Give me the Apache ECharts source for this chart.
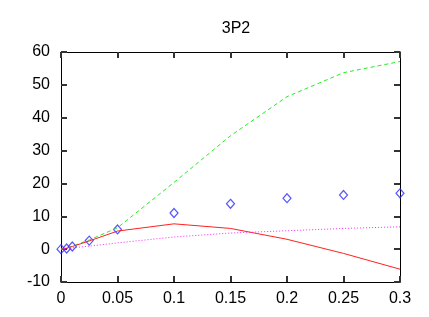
<!DOCTYPE html>
<html><head><meta charset="utf-8">
<script src="https://cdn.jsdelivr.net/npm/echarts@6/dist/echarts.min.js"></script>
<style>html,body{margin:0;padding:0;background:#fff}#c{width:429px;height:317px}</style>
</head><body><div id="c"></div>
<script>
var title = '3P2';
var xs = [0, 0.005, 0.01, 0.025, 0.05, 0.1, 0.15, 0.2, 0.25, 0.3];
var diamondY = [0, 0.2, 0.8, 2.6, 6.0, 11.0, 13.8, 15.5, 16.5, 17.0];
var redY = [0, 0.3, 0.8, 2.5, 5.5, 7.7, 6.3, 3.0, -1.3, -6.1];
var greenY = [0, 0.3, 0.9, 2.8, 6.5, 20.3, 34.5, 46.4, 53.7, 57.1];
var magentaY = [0, 0.2, 0.4, 0.9, 1.9, 3.7, 4.9, 5.6, 6.3, 6.8];
var xTickLabels = ['0', '0.05', '0.1', '0.15', '0.2', '0.25', '0.3'];
var yTickLabels = ['-10', '0', '10', '20', '30', '40', '50', '60'];

function pairs(ys){ return xs.map(function(x,i){ return [x, ys[i]]; }); }
var font = 'Liberation Sans, Arial, sans-serif';
var chart = echarts.init(document.getElementById('c'), null, {renderer:'canvas'});
function axLine(){ return {show:true, onZero:false, lineStyle:{color:'#000', width:1}}; }
function axTick(){ return {show:true, inside:true, length:6, lineStyle:{color:'#333', width:2}}; }
chart.setOption({
  animation:false,
  backgroundColor:'#fff',
  title:{text:title, left:231, top:16, textAlign:'center',
    textStyle:{fontFamily:font, fontSize:16, fontWeight:'normal', color:'#000'}},
  grid:{left:61, right:29, top:52, bottom:35},
  xAxis:[{type:'value', min:0, max:0.3, interval:0.05, position:'bottom',
    axisLine:axLine(), axisTick:axTick(), splitLine:{show:false},
    axisLabel:{fontFamily:font, fontSize:16, color:'#000', margin:9,
      formatter:function(v){ return xTickLabels[Math.round(v/0.05)]; }}},
   {type:'value', min:0, max:0.3, interval:0.05, position:'top',
    axisLine:axLine(), axisTick:axTick(), splitLine:{show:false}, axisLabel:{show:false}}],
  yAxis:[{type:'value', min:-10, max:60, interval:10, position:'left',
    axisLine:axLine(), axisTick:axTick(), splitLine:{show:false},
    axisLabel:{fontFamily:font, fontSize:16, color:'#000', margin:11,
      formatter:function(v){ return yTickLabels[Math.round((v+10)/10)]; }}},
   {type:'value', min:-10, max:60, interval:10, position:'right',
    axisLine:axLine(), axisTick:axTick(), splitLine:{show:false}, axisLabel:{show:false}}],
  series:[
    {type:'line', data:pairs(greenY), symbol:'none', lineStyle:{color:'#22ee22', width:1, type:[4,3]}},
    {type:'line', data:pairs(redY), symbol:'none', lineStyle:{color:'#ff2020', width:1}},
    {type:'line', data:pairs(magentaY), symbol:'none', lineStyle:{color:'#ff22ff', width:1, type:[1,2]}},
    {type:'scatter', data:pairs(diamondY), symbol:'diamond', symbolSize:[8,9],
      itemStyle:{color:'rgba(0,0,0,0)', borderColor:'#2a2aff', borderWidth:1.2}}
  ]
});
</script></body></html>
